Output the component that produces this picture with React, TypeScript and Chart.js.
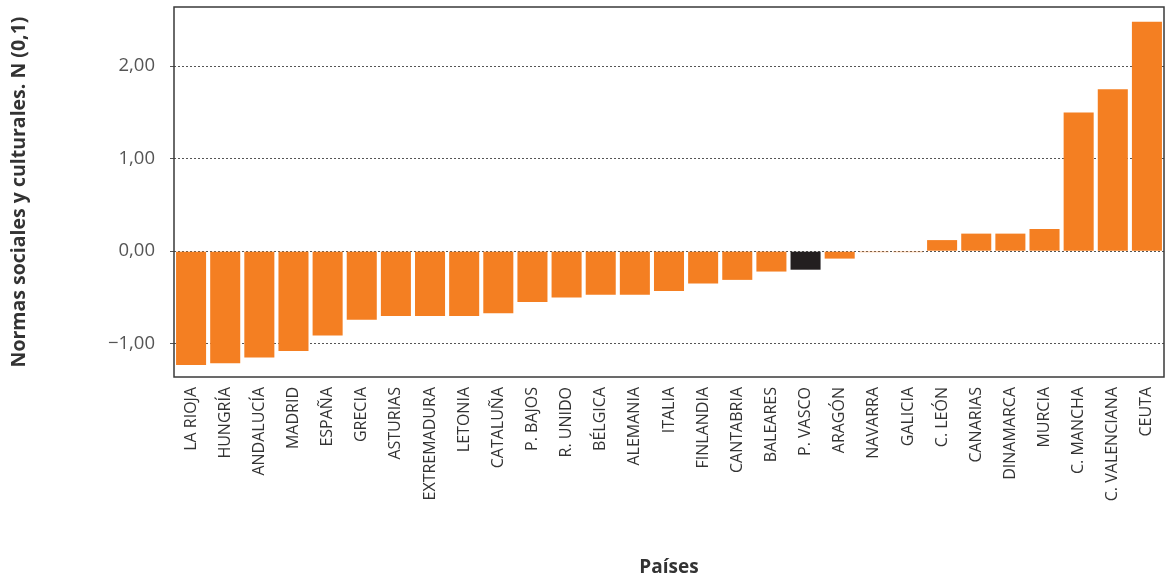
import React, { useEffect, useRef } from "react";
import { Chart, registerables } from "chart.js";

Chart.register(...registerables);

const categories = [
  "LA RIOJA", "HUNGRÍA", "ANDALUCÍA", "MADRID", "ESPAÑA", "GRECIA", "ASTURIAS",
  "EXTREMADURA", "LETONIA", "CATALUÑA", "P. BAJOS", "R. UNIDO", "BÉLGICA",
  "ALEMANIA", "ITALIA", "FINLANDIA", "CANTABRIA", "BALEARES", "P. VASCO",
  "ARAGÓN", "NAVARRA", "GALICIA", "C. LEÓN", "CANARIAS", "DINAMARCA", "MURCIA",
  "C. MANCHA", "C. VALENCIANA", "CEUTA",
];

const values = [
  -1.23, -1.21, -1.15, -1.08, -0.91, -0.74, -0.70, -0.70, -0.70, -0.67, -0.55,
  -0.50, -0.47, -0.47, -0.43, -0.35, -0.31, -0.22, -0.20, -0.08, -0.01, -0.01,
  0.12, 0.19, 0.19, 0.24, 1.50, 1.75, 2.48,
];

const highlighted = "P. VASCO";
const yTicks = [-1, 0, 1, 2];

const ORANGE = "#F47F22";
const DARK = "#231F20";
const FONT = "'Open Sans', 'DejaVu Sans', sans-serif";

const framePlugin = {
  id: "frame",
  afterDraw(chart: any) {
    const { ctx, chartArea } = chart;
    ctx.save();
    ctx.strokeStyle = "#3a3a3a";
    ctx.lineWidth = 1.5;
    ctx.strokeRect(chartArea.left, chartArea.top, chartArea.right - chartArea.left, chartArea.bottom - chartArea.top);
    ctx.restore();
  },
};

export default function App() {
  const ref = useRef<HTMLCanvasElement | null>(null);

  useEffect(() => {
    document.body.style.margin = "0";
    const canvas = ref.current;
    if (!canvas) return;
    const chart = new Chart(canvas, {
      type: "bar",
      data: {
        labels: categories,
        datasets: [
          {
            data: values,
            backgroundColor: categories.map((c) => (c === highlighted ? DARK : ORANGE)),
            borderWidth: 0,
            barPercentage: 0.88,
            categoryPercentage: 1,
          },
        ],
      },
      options: {
        animation: false,
        responsive: false,
        maintainAspectRatio: false,
        layout: { padding: 0 },
        plugins: { legend: { display: false }, tooltip: { enabled: false } },
        scales: {
          x: {
            grid: { display: false, drawTicks: false },
            border: { display: false },
            ticks: {
              autoSkip: false,
              minRotation: 90,
              maxRotation: 90,
              padding: 10,
              color: "#333",
              font: { family: FONT, size: 16 },
            },
            title: {
              display: true,
              text: "Países",
              color: "#333",
              font: { family: FONT, size: 19, weight: "bold" },
              padding: { top: 0, bottom: 0 },
            },
            afterFit(scale: any) {
              scale.height = 579 - 377;
              scale.paddingLeft = 0;
              scale.paddingRight = 2;
            },
          },
          y: {
            min: -1.36,
            max: 2.64,
            afterBuildTicks(scale: any) {
              scale.ticks = yTicks.map((v) => ({ value: v }));
            },
            grid: {
              color: "#555",
              lineWidth: 1,
              tickLength: 4,
              drawTicks: true,
            },
            border: { display: false },
            ticks: {
              padding: 15,
              color: "#555",
              font: { family: FONT, size: 18.5 },
              callback: (v: any) => {
                const n = Number(v);
                const s = Math.abs(n).toFixed(2).replace(".", ",");
                return n < 0 ? "\u2212" + s : s;
              },
            },
            title: {
              display: true,
              text: "Normas sociales y culturales. N (0,1)",
              color: "#333",
              font: { family: FONT, size: 19.5, weight: "bold" },
              padding: { top: 8, bottom: 0 },
            },
            afterFit(scale: any) {
              scale.width = 174;
              scale.paddingTop = 7;
              scale.paddingBottom = 0;
            },
          },
        },
      } as any,
      plugins: [framePlugin],
    });
    (chart.options.scales as any).y.grid.borderDash = [2, 2];
    (chart.options.scales as any).y.border.dash = [2, 2];
    chart.update();
    return () => chart.destroy();
  }, []);

  return (
    <div style={{ width: 1166, height: 579 }}>
      <canvas ref={ref} width={1166} height={579} style={{ display: "block" }} />
    </div>
  );
}
